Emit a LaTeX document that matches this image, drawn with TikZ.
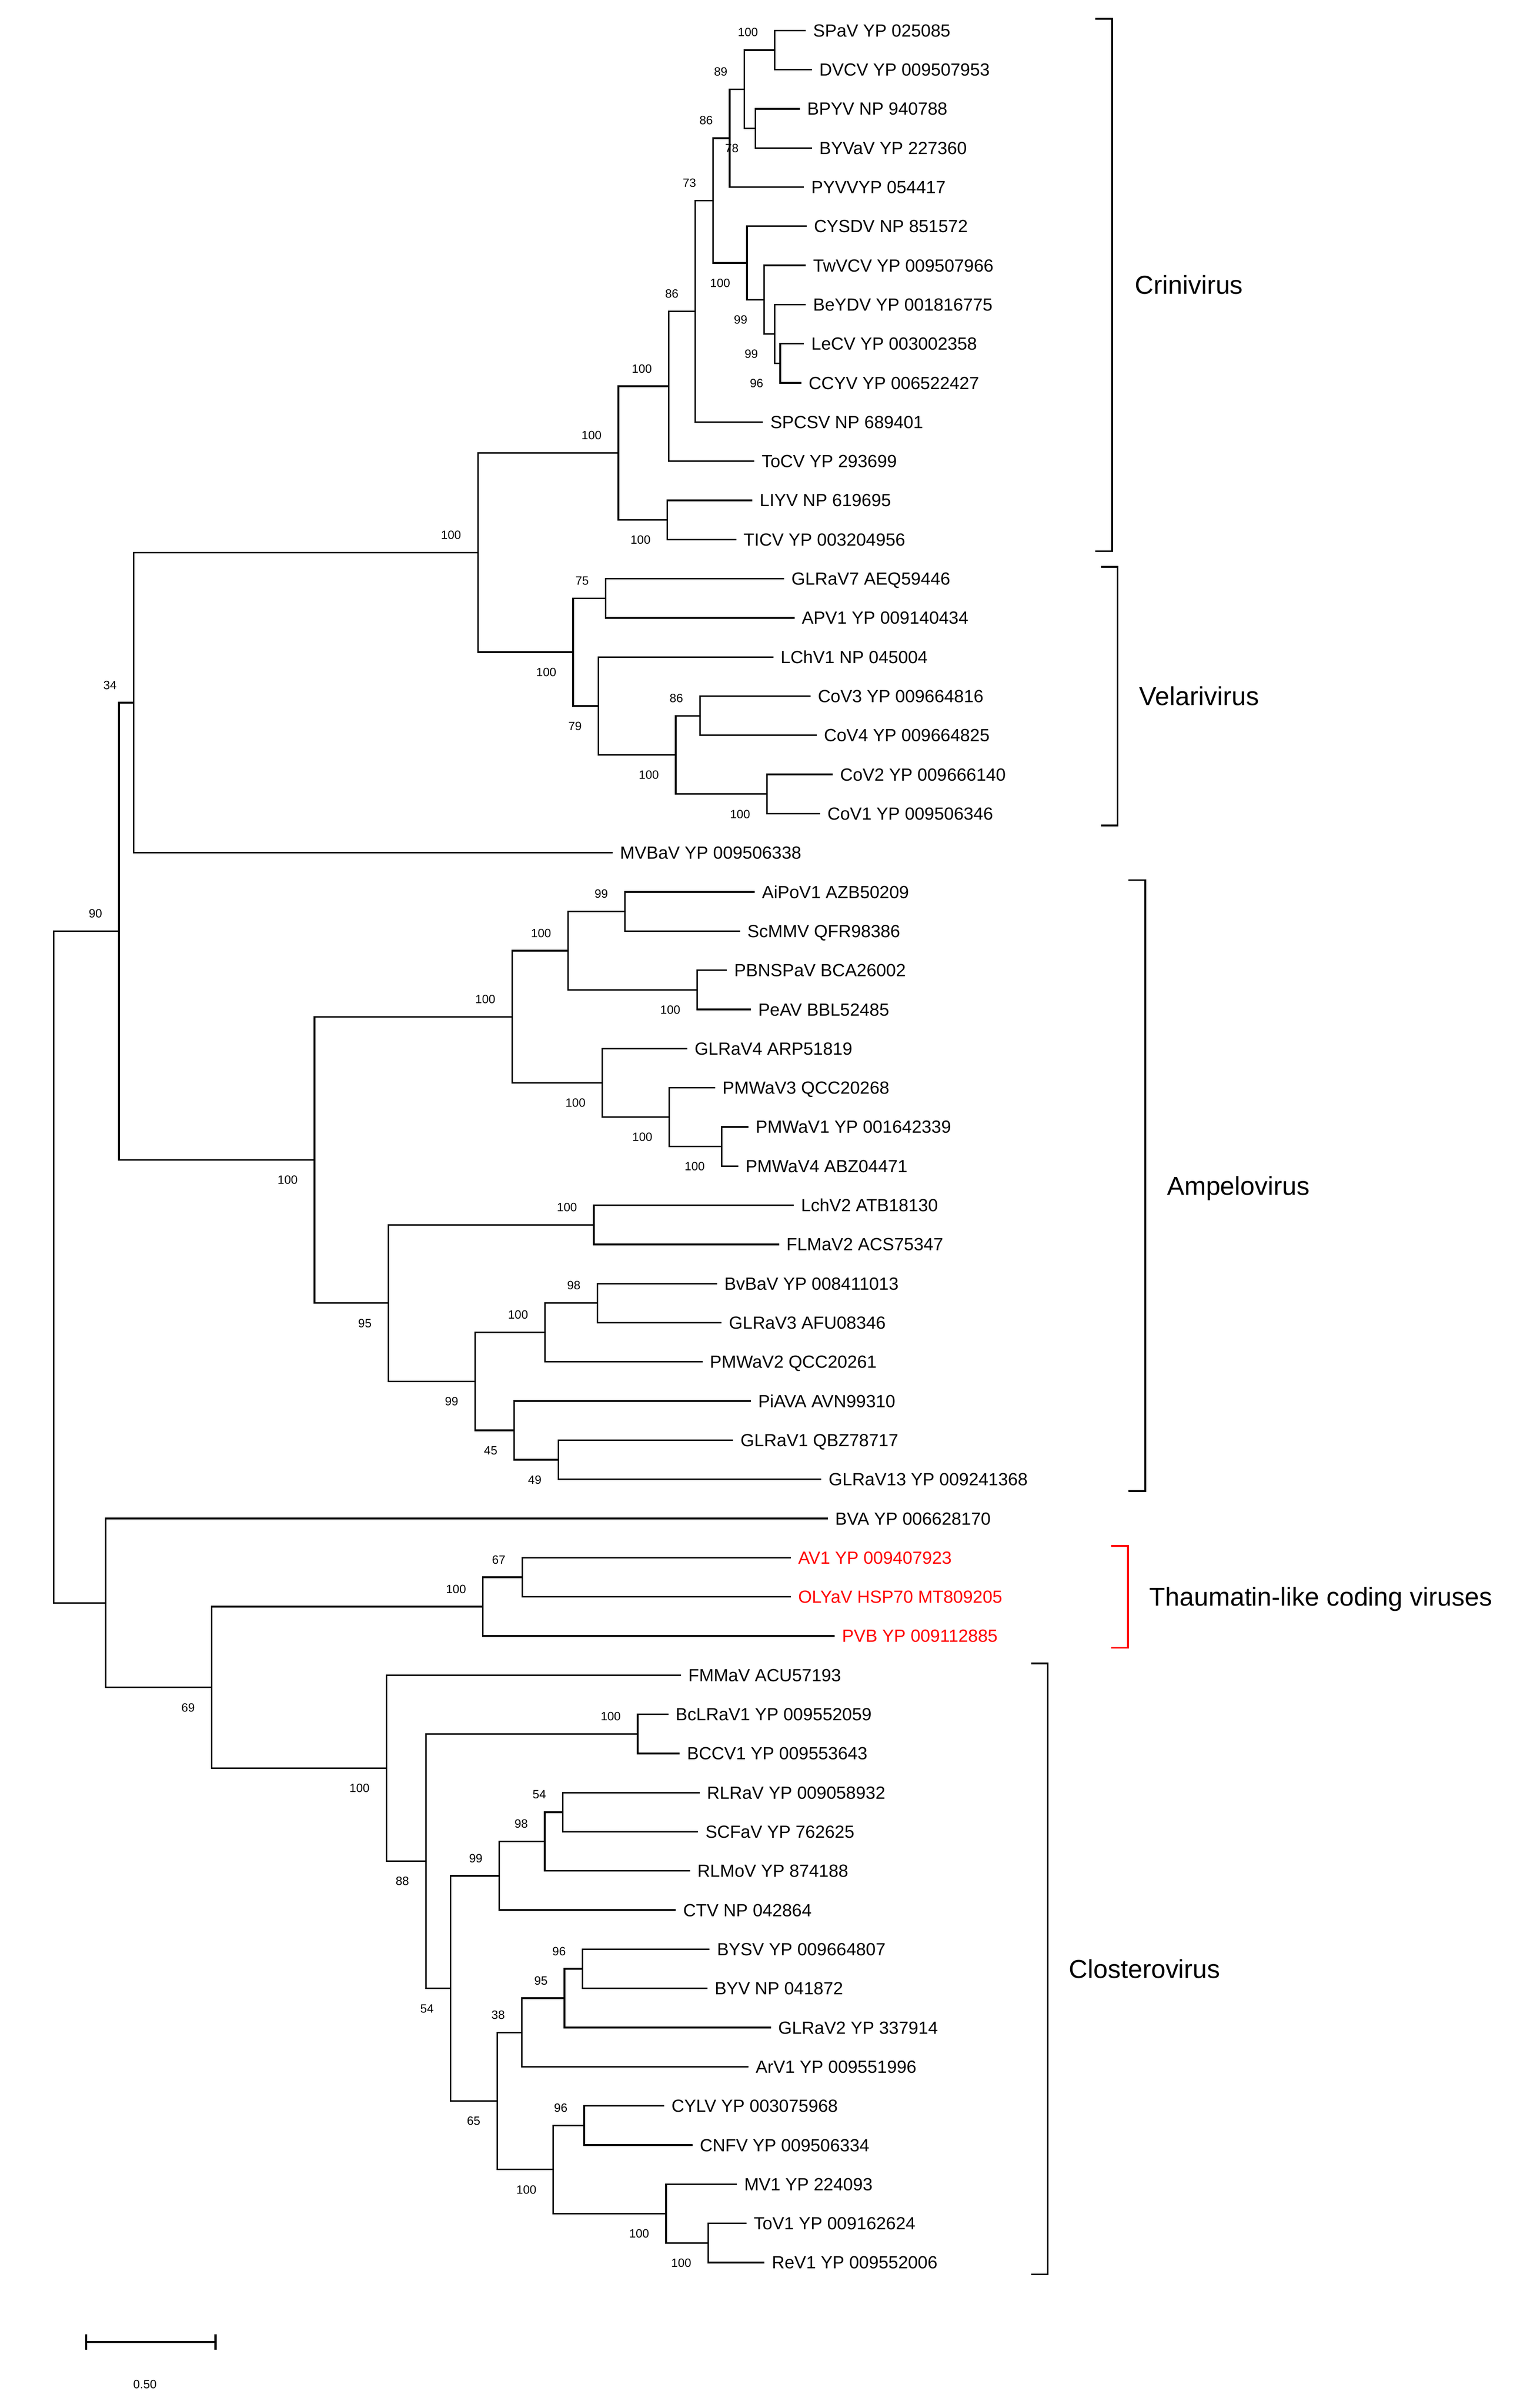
\documentclass[tikz,border=0pt]{standalone}
\usepackage{fontspec}
\setmainfont{Liberation Sans}

\tikzset{
  leaf/.style={anchor=west, inner xsep=0.9mm, inner ysep=0pt, text height=4.7pt, text depth=0pt, font=\fontsize{6.6}{8}\selectfont},
  bsup/.style={anchor=base east, inner sep=0pt, xshift=-2.15mm, yshift=1.77mm, font=\fontsize{4.5}{5}\selectfont},
  bsdn/.style={anchor=base east, inner sep=0pt, xshift=-2.15mm, yshift=-3.19mm, font=\fontsize{4.5}{5}\selectfont},
  branch/.style={line width=0.6pt},
  brk/.style={line width=0.65pt},
  groupe/.style={anchor=west, inner sep=0pt, text height=6.9pt, text depth=0pt, font=\fontsize{9.7}{11}\selectfont},
}

\begin{document}
\begin{tikzpicture}[x=0.2mm, y=-5.154mm]
 \useasboundingbox (0,0.2222) rectangle (1000,61.716);

	% Feuilles
 \node[leaf] (SPaV) at (530.3,1) {SPaV YP 025085};
 \node[leaf] (DVCV) at (534.3,2) {DVCV YP 009507953};
 \node[leaf] (BPYV) at (526.4,3) {BPYV NP 940788};
 \node[leaf] (BYVaV) at (534.3,4) {BYVaV YP 227360};
 \node[leaf] (PYVV) at (529.1,5) {PYVVYP 054417};
 \node[leaf] (CYSDV) at (530.8,6) {CYSDV NP 851572};
 \node[leaf] (TwVCV) at (530.3,7) {TwVCV YP 009507966};
 \node[leaf] (BeYDV) at (530.3,8) {BeYDV YP 001816775};
 \node[leaf] (LeCV) at (529.1,9) {LeCV YP 003002358};
 \node[leaf] (CCYV) at (527.3,10) {CCYV YP 006522427};
 \node[leaf] (SPCSV) at (502.1,11) {SPCSV NP 689401};
 \node[leaf] (ToCV) at (496.4,12) {ToCV YP 293699};
 \node[leaf] (LIYV) at (495.1,13) {LIYV NP 619695};
 \node[leaf] (TICV) at (484.5,14) {TICV YP 003204956};
 \node[leaf] (GLRaV7) at (516.0,15) {GLRaV7 AEQ59446};
 \node[leaf] (APV1) at (522.8,16) {APV1 YP 009140434};
 \node[leaf] (LChV1) at (508.9,17) {LChV1 NP 045004};
 \node[leaf] (CoV3) at (533.4,18) {CoV3 YP 009664816};
 \node[leaf] (CoV4) at (537.4,19) {CoV4 YP 009664825};
 \node[leaf] (CoV2) at (548.0,20) {CoV2 YP 009666140};
 \node[leaf] (CoV1) at (539.7,21) {CoV1 YP 009506346};
 \node[leaf] (MVBaV) at (403.2,22) {MVBaV YP 009506338};
 \node[leaf] (AiPoV1) at (496.6,23) {AiPoV1 AZB50209};
 \node[leaf] (ScMMV) at (487.0,24) {ScMMV QFR98386};
 \node[leaf] (PBNSPaV) at (478.4,25) {PBNSPaV BCA26002};
 \node[leaf] (PeAV) at (494.1,26) {PeAV BBL52485};
 \node[leaf] (GLRaV4) at (452.3,27) {GLRaV4 ARP51819};
 \node[leaf] (PMWaV3) at (470.6,28) {PMWaV3 QCC20268};
 \node[leaf] (PMWaV1) at (492.5,29) {PMWaV1 YP 001642339};
 \node[leaf] (PMWaV4) at (485.8,30) {PMWaV4 ABZ04471};
 \node[leaf] (LchV2) at (522.3,31) {LchV2 ATB18130};
 \node[leaf] (FLMaV2) at (512.7,32) {FLMaV2 ACS75347};
 \node[leaf] (BvBaV) at (471.9,33) {BvBaV YP 008411013};
 \node[leaf] (GLRaV3) at (474.9,34) {GLRaV3 AFU08346};
 \node[leaf] (PMWaV2) at (462.3,35) {PMWaV2 QCC20261};
 \node[leaf] (PiAVA) at (494.1,36) {PiAVA AVN99310};
 \node[leaf] (GLRaV1) at (482.5,37) {GLRaV1 QBZ78717};
 \node[leaf] (GLRaV13) at (540.5,38) {GLRaV13 YP 009241368};
 \node[leaf] (BVA) at (544.8,39) {BVA YP 006628170};
 \node[leaf, text=red] (AV1) at (520.4,40) {AV1 YP 009407923};
 \node[leaf, text=red] (OLYaV) at (520.4,41) {OLYaV HSP70 MT809205};
 \node[leaf, text=red] (PVB) at (549.3,42) {PVB YP 009112885};
 \node[leaf] (FMMaV) at (448.1,43) {FMMaV ACU57193};
 \node[leaf] (BcLRaV1) at (439.8,44) {BcLRaV1 YP 009552059};
 \node[leaf] (BCCV1) at (447.3,45) {BCCV1 YP 009553643};
 \node[leaf] (RLRaV) at (460.4,46) {RLRaV YP 009058932};
 \node[leaf] (SCFaV) at (459.4,47) {SCFaV YP 762625};
 \node[leaf] (RLMoV) at (454.1,48) {RLMoV YP 874188};
 \node[leaf] (CTV) at (444.8,49) {CTV NP 042864};
 \node[leaf] (BYSV) at (467.0,50) {BYSV YP 009664807};
 \node[leaf] (BYV) at (465.5,51) {BYV NP 041872};
 \node[leaf] (GLRaV2) at (507.3,52) {GLRaV2 YP 337914};
 \node[leaf] (ArV1) at (492.5,53) {ArV1 YP 009551996};
 \node[leaf] (CYLV) at (437.1,54) {CYLV YP 003075968};
 \node[leaf] (CNFV) at (455.7,55) {CNFV YP 009506334};
 \node[leaf] (MV1) at (484.9,56) {MV1 YP 224093};
 \node[leaf] (ToV1) at (491.2,57) {ToV1 YP 009162624};
 \node[leaf] (ReV1) at (503.1,58) {ReV1 YP 009552006};

	% Noeuds internes
 \coordinate (a) at (509.9,1.5);
 \coordinate (b) at (497.1,3.5);
 \coordinate (c) at (489.8,2.5);
 \coordinate (d) at (480.2,3.75);
 \coordinate (e) at (513.4,9.5);
 \coordinate (f) at (509.9,8.75);
 \coordinate (g) at (502.9,7.875);
 \coordinate (h) at (491.6,6.9375);
 \coordinate (i) at (469.2,5.34375);
 \coordinate (j) at (457.6,8.171875);
 \coordinate (k) at (440.1,10.0859375);
 \coordinate (l) at (439.2,13.5);
 \coordinate (m) at (407.0,11.79296875);
 \coordinate (n) at (398.6,15.5);
 \coordinate (o) at (460.6,18.5);
 \coordinate (p) at (504.7,20.5);
 \coordinate (q) at (444.7,19.5);
 \coordinate (r) at (393.9,18.25);
 \coordinate (s) at (377.2,16.875);
 \coordinate (t) at (314.5,14.333984);
 \coordinate (u) at (87.9,18.166992);
 \coordinate (v) at (78.3,24.005371);
 \coordinate (A) at (207.0,29.84375);
 \coordinate (B) at (337.1,26.1875);
 \coordinate (C) at (373.8,24.5);
 \coordinate (D) at (411.2,23.5);
 \coordinate (E) at (458.8,25.5);
 \coordinate (F) at (396.4,27.875);
 \coordinate (G) at (440.4,28.75);
 \coordinate (H) at (474.9,29.5);
 \coordinate (I) at (255.6,33.5);
 \coordinate (J) at (390.8,31.5);
 \coordinate (K) at (312.7,35.5);
 \coordinate (L) at (358.6,34.25);
 \coordinate (M) at (393.1,33.5);
 \coordinate (N) at (338.4,36.75);
 \coordinate (O) at (367.4,37.5);
 \coordinate (W) at (69.5,41.15625);
 \coordinate (X) at (139.3,43.3125);
 \coordinate (T) at (317.8,41.25);
 \coordinate (U) at (343.7,40.5);
 \coordinate (Cl) at (254.3,45.375);
 \coordinate (Nb) at (280.3,47.75);
 \coordinate (Bc) at (419.6,44.5);
 \coordinate (Nc) at (296.5,51.0);
 \coordinate (Nd) at (328.6,48.125);
 \coordinate (Ne) at (358.5,47.25);
 \coordinate (Nf) at (370.4,46.5);
 \coordinate (Ng) at (327.2,53.875);
 \coordinate (Nh) at (343.3,52.125);
 \coordinate (Ni) at (371.5,51.25);
 \coordinate (Nj) at (383.4,50.5);
 \coordinate (P) at (364.1,55.625);
 \coordinate (Q) at (384.5,54.5);
 \coordinate (R) at (438.3,56.75);
 \coordinate (S) at (466.0,57.5);
 \coordinate (root) at (35.3,32.58);

	% Branches
 \draw[branch] (SPaV.west) -| (a) |- (DVCV.west);
 \draw[branch] (BPYV.west) -| (b) |- (BYVaV.west);
 \draw[branch] (a) -| (c) |- (b);
 \draw[branch] (c) -| (d) |- (PYVV.west);
 \draw[branch] (LeCV.west) -| (e) |- (CCYV.west);
 \draw[branch] (BeYDV.west) -| (f) |- (e);
 \draw[branch] (TwVCV.west) -| (g) |- (f);
 \draw[branch] (CYSDV.west) -| (h) |- (g);
 \draw[branch] (d) -| (i) |- (h);
 \draw[branch] (i) -| (j) |- (SPCSV.west);
 \draw[branch] (j) -| (k) |- (ToCV.west);
 \draw[branch] (LIYV.west) -| (l) |- (TICV.west);
 \draw[branch] (k) -| (m) |- (l);
 \draw[branch] (GLRaV7.west) -| (n) |- (APV1.west);
 \draw[branch] (CoV3.west) -| (o) |- (CoV4.west);
 \draw[branch] (CoV2.west) -| (p) |- (CoV1.west);
 \draw[branch] (o) -| (q) |- (p);
 \draw[branch] (LChV1.west) -| (r) |- (q);
 \draw[branch] (n) -| (s) |- (r);
 \draw[branch] (m) -| (t) |- (s);
 \draw[branch] (t) -| (u) |- (MVBaV.west);
 \draw[branch] (AiPoV1.west) -| (D) |- (ScMMV.west);
 \draw[branch] (PBNSPaV.west) -| (E) |- (PeAV.west);
 \draw[branch] (D) -| (C) |- (E);
 \draw[branch] (PMWaV1.west) -| (H) |- (PMWaV4.west);
 \draw[branch] (PMWaV3.west) -| (G) |- (H);
 \draw[branch] (GLRaV4.west) -| (F) |- (G);
 \draw[branch] (C) -| (B) |- (F);
 \draw[branch] (LchV2.west) -| (J) |- (FLMaV2.west);
 \draw[branch] (BvBaV.west) -| (M) |- (GLRaV3.west);
 \draw[branch] (M) -| (L) |- (PMWaV2.west);
 \draw[branch] (GLRaV1.west) -| (O) |- (GLRaV13.west);
 \draw[branch] (PiAVA.west) -| (N) |- (O);
 \draw[branch] (L) -| (K) |- (N);
 \draw[branch] (J) -| (I) |- (K);
 \draw[branch] (B) -| (A) |- (I);
 \draw[branch] (u) -| (v) |- (A);
 \draw[branch] (AV1.west) -| (U) |- (OLYaV.west);
 \draw[branch] (U) -| (T) |- (PVB.west);
 \draw[branch] (BcLRaV1.west) -| (Bc) |- (BCCV1.west);
 \draw[branch] (RLRaV.west) -| (Nf) |- (SCFaV.west);
 \draw[branch] (Nf) -| (Ne) |- (RLMoV.west);
 \draw[branch] (Ne) -| (Nd) |- (CTV.west);
 \draw[branch] (BYSV.west) -| (Nj) |- (BYV.west);
 \draw[branch] (Nj) -| (Ni) |- (GLRaV2.west);
 \draw[branch] (Ni) -| (Nh) |- (ArV1.west);
 \draw[branch] (CYLV.west) -| (Q) |- (CNFV.west);
 \draw[branch] (ToV1.west) -| (S) |- (ReV1.west);
 \draw[branch] (MV1.west) -| (R) |- (S);
 \draw[branch] (Q) -| (P) |- (R);
 \draw[branch] (Nh) -| (Ng) |- (P);
 \draw[branch] (Nd) -| (Nc) |- (Ng);
 \draw[branch] (Bc) -| (Nb) |- (Nc);
 \draw[branch] (FMMaV.west) -| (Cl) |- (Nb);
 \draw[branch] (T) -| (X) |- (Cl);
 \draw[branch] (BVA.west) -| (W) |- (X);
 \draw[branch] (v) -| (root) |- (W);

	% Bootstrap
 \node[bsup] (ba) at (a) {100};
 \node[bsdn] (bb) at (b) {78};
 \node[bsup] (bc) at (c) {89};
 \node[bsup] (bd) at (d) {86};
 \node[bsdn] (be) at (e) {96};
 \node[bsdn] (bf) at (f) {99};
 \node[bsdn] (bg) at (g) {99};
 \node[bsdn] (bh) at (h) {100};
 \node[bsup] (bi) at (i) {73};
 \node[bsup] (bj) at (j) {86};
 \node[bsup] (bk) at (k) {100};
 \node[bsdn] (bl) at (l) {100};
 \node[bsup] (bm) at (m) {100};
 \node[bsup] (bn) at (n) {75};
 \node[bsup] (bo) at (o) {86};
 \node[bsdn] (bp) at (p) {100};
 \node[bsdn] (bq) at (q) {100};
 \node[bsdn] (br) at (r) {79};
 \node[bsdn] (bs) at (s) {100};
 \node[bsup] (bt) at (t) {100};
 \node[bsup] (bu) at (u) {34};
 \node[bsup] (bv) at (v) {90};
 \node[bsdn] (bA) at (A) {100};
 \node[bsup] (bB) at (B) {100};
 \node[bsup] (bC) at (C) {100};
 \node[bsup] (bD) at (D) {99};
 \node[bsdn] (bE) at (E) {100};
 \node[bsdn] (bF) at (F) {100};
 \node[bsdn] (bG) at (G) {100};
 \node[bsdn] (bH) at (H) {100};
 \node[bsdn] (bI) at (I) {95};
 \node[bsup] (bJ) at (J) {100};
 \node[bsdn] (bK) at (K) {99};
 \node[bsup] (bL) at (L) {100};
 \node[bsup] (bM) at (M) {98};
 \node[bsdn] (bN) at (N) {45};
 \node[bsdn] (bO) at (O) {49};
 \node[bsdn] (bX) at (X) {69};
 \node[bsup] (bT) at (T) {100};
 \node[bsup] (bU) at (U) {67};
 \node[bsdn] (bCl) at (Cl) {100};
 \node[bsdn] (bNb) at (Nb) {88};
 \node[bsup] (bBc) at (Bc) {100};
 \node[bsdn] (bNc) at (Nc) {54};
 \node[bsup] (bNd) at (Nd) {99};
 \node[bsup] (bNe) at (Ne) {98};
 \node[bsup] (bNf) at (Nf) {54};
 \node[bsdn] (bNg) at (Ng) {65};
 \node[bsup] (bNh) at (Nh) {38};
 \node[bsup] (bNi) at (Ni) {95};
 \node[bsup] (bNj) at (Nj) {96};
 \node[bsdn] (bP) at (P) {100};
 \node[bsup] (bQ) at (Q) {96};
 \node[bsdn] (bR) at (R) {100};
 \node[bsdn] (bS) at (S) {100};

	% Groupes
 \draw[brk] (720.8,0.7) -| (731.8,14.3) -- (720.8,14.3);
 \node[groupe] (crini) at (746.6,7.5) {Crinivirus};
 \draw[brk] (724.5,14.7) -| (735.5,21.3) -- (724.5,21.3);
 \node[groupe] (velari) at (749.5,18) {Velarivirus};
 \draw[brk] (742.7,22.7) -| (753.7,38.3) -- (742.7,38.3);
 \node[groupe] (ampelo) at (767.7,30.5) {Ampelovirus};
 \draw[brk, red] (731.3,39.7) -| (742.3,42.3) -- (731.3,42.3);
 \node[groupe] (thauma) at (756.1,41) {Thaumatin-like coding viruses};
 \draw[brk] (678.5,42.7) -| (689.5,58.3) -- (678.5,58.3);
 \node[groupe] (clostero) at (703.2,50.5) {Closterovirus};

	% Echelle
 \coordinate (e0) at (56.7,60.03);
 \coordinate (e1) at (141.8,60.03);
 \draw[line width=0.7pt] (e0) -- (e1);
 \draw[line width=0.8pt] ([yshift=1mm]e0) -- ([yshift=-1mm]e0);
 \draw[line width=0.8pt] ([yshift=1mm]e1) -- ([yshift=-1mm]e1);
 \node[anchor=base, inner sep=0pt, yshift=-0.57mm, font=\fontsize{4.5}{5}\selectfont] (echelle) at (95.4,61.11) {0.50};

\end{tikzpicture}
\end{document}
